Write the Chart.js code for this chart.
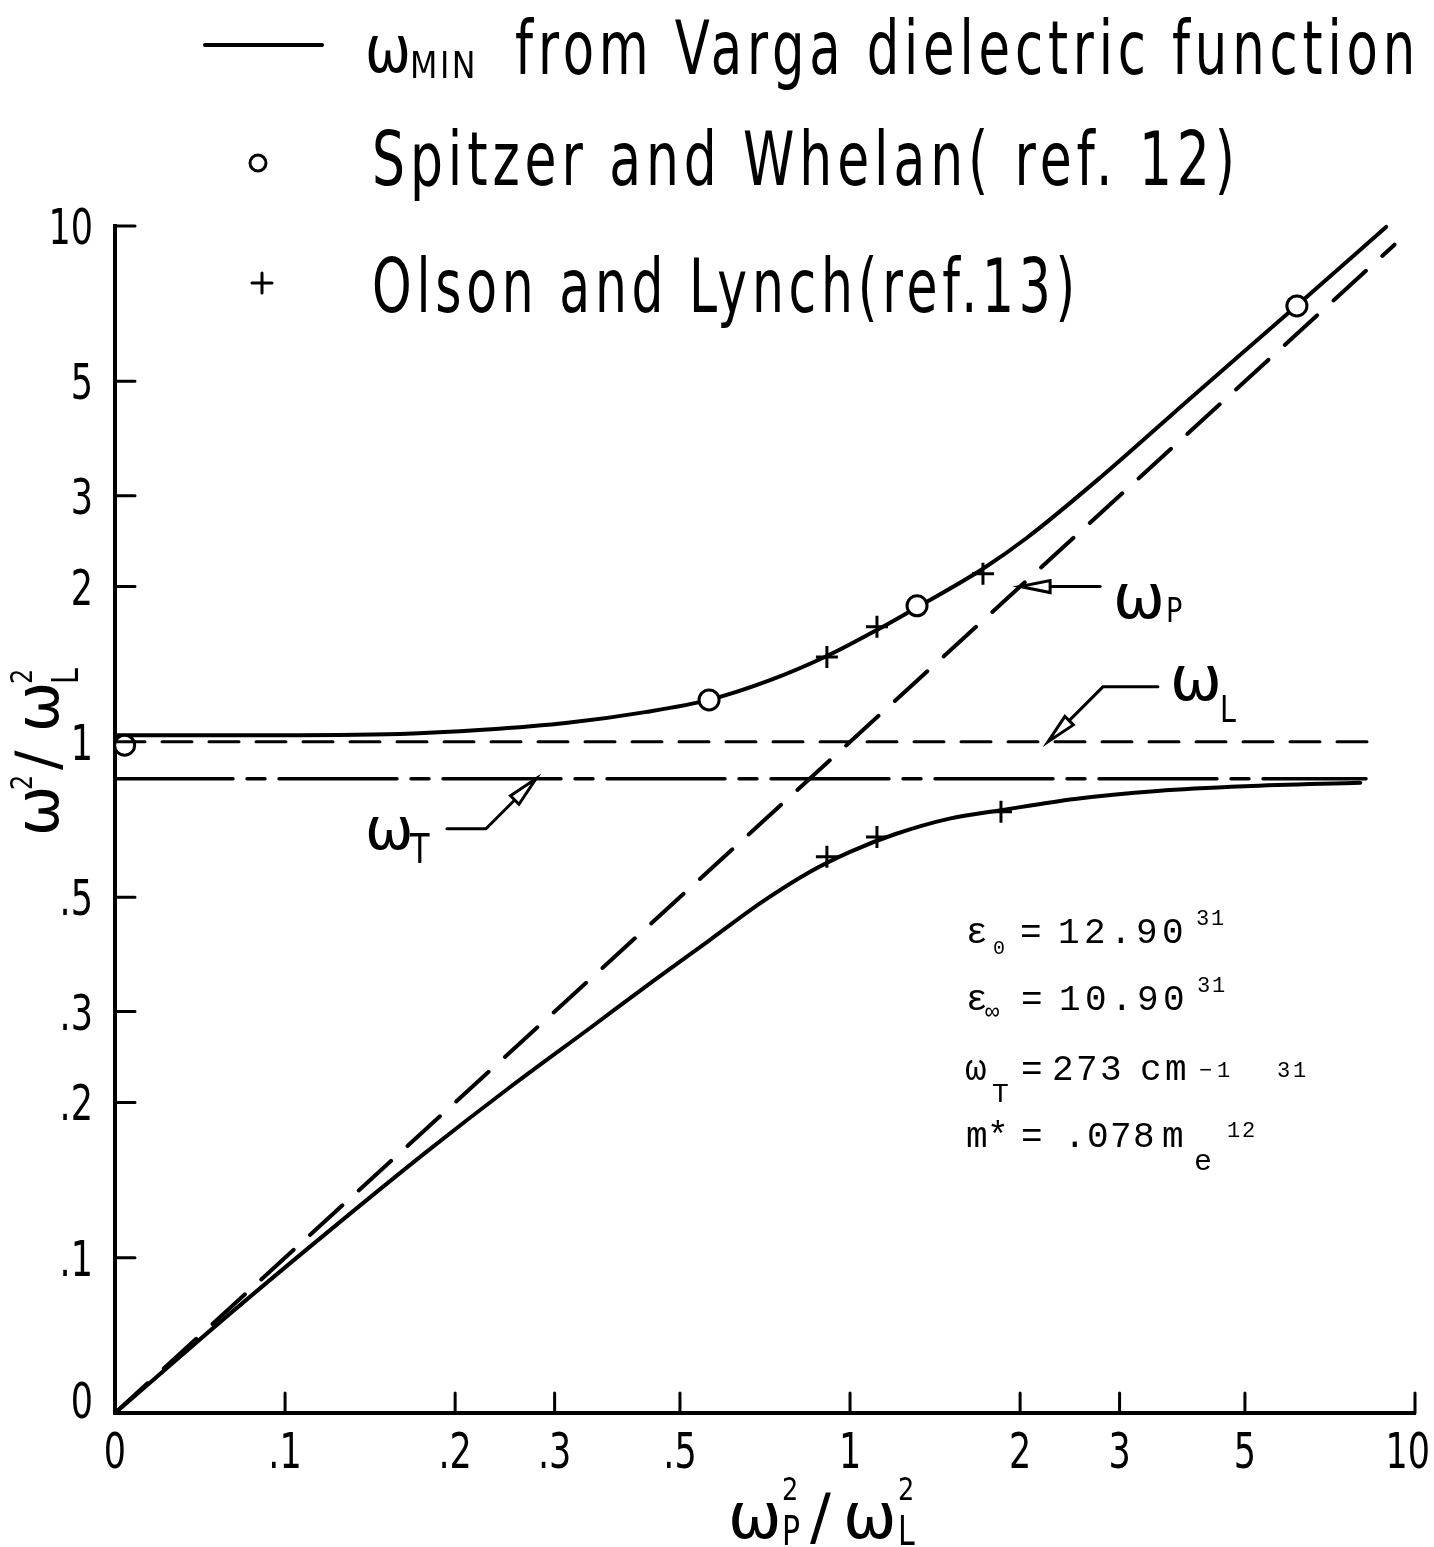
<!DOCTYPE html>
<html>
<head>
<meta charset="utf-8">
<title>omega min vs plasma frequency</title>
<script src="https://cdn.jsdelivr.net/npm/chart.js@4.4.0/dist/chart.umd.min.js"></script>
<style>
  html, body { margin: 0; padding: 0; background: #fff; }
  canvas { display: block; }
</style>
</head>
<body>
<canvas id="chart" width="1434" height="1547"></canvas>
<script>
// both axes are logarithmic, the "0" label sits at the lower end
const axisMin = 0.05;
const axisMax = 10;
const xTickValues = [0.05, 0.1, 0.2, 0.3, 0.5, 1, 2, 3, 5, 10];
const xTickLabels = ['0', '.1', '.2', '.3', '.5', '1', '2', '3', '5', '10'];
const yTickValues = [0.05, 0.1, 0.2, 0.3, 0.5, 1, 2, 3, 5, 10];
const yTickLabels = ['0', '.1', '.2', '.3', '.5', '1', '2', '3', '5', '10'];

// omega_MIN from Varga dielectric function, upper branch
const upperX = [0.05, 0.087, 0.16, 0.224, 0.319, 0.434, 0.563, 0.722, 0.91, 1.116, 1.314, 1.719, 2.057, 2.77, 4.08, 6.18, 8.89];
const upperY = [1.03, 1.03, 1.036, 1.055, 1.09, 1.142, 1.206, 1.317, 1.467, 1.648, 1.823, 2.166, 2.487, 3.25, 4.72, 7.01, 9.96];
// lower branch
const lowerX = [0.05, 0.08, 0.12, 0.18, 0.25, 0.35, 0.45, 0.563, 0.7, 0.85, 1.0, 1.2, 1.5, 1.85, 2.5, 3.5, 5.0, 8.0];
const lowerY = [0.05, 0.078, 0.113, 0.162, 0.214, 0.281, 0.345, 0.412, 0.49, 0.56, 0.612, 0.662, 0.71, 0.737, 0.775, 0.803, 0.82, 0.833];

// Spitzer and Whelan (ref. 12)
const spitzerX = [0.052, 0.563, 1.314, 6.18];
const spitzerY = [0.985, 1.206, 1.835, 7.0];
// Olson and Lynch (ref. 13)
const olsonX = [0.91, 1.116, 1.719, 0.91, 1.116, 1.85];
const olsonY = [1.461, 1.671, 2.117, 0.599, 0.654, 0.732];

// reference lines omega_L, omega_T, omega_P
const wLX = [0.05, 8.53];
const wLY = [1, 1];
const wTX = [0.05, 8.19];
const wTY = [0.848, 0.848];
const wPX = [0.05, 9.2];
const wPY = [0.05, 9.2];

const SANS = '"DejaVu Sans", "Liberation Sans", sans-serif';
const MONO = '"Liberation Mono", "DejaVu Sans Mono", monospace';

const pts = (xs, ys) => xs.map((x, i) => ({x: x, y: ys[i]}));

function curve(data, dash, width, smooth) {
    return {
        data: data,
        showLine: true,
        borderColor: '#000',
        borderWidth: width,
        borderDash: dash,
        borderCapStyle: 'round',
        pointRadius: 0,
        pointHoverRadius: 0,
        cubicInterpolationMode: smooth ? 'monotone' : 'default',
        fill: false,
        clip: false
    };
}

// text with optional horizontal squeeze to a target width
function txt(ctx, str, x, y, size, opt) {
    opt = opt || {};
    ctx.save();
    ctx.font = size + 'px ' + (opt.family || SANS);
    if (opt.spacing) ctx.letterSpacing = opt.spacing + 'px';
    const w = ctx.measureText(str).width;
    const sx = opt.width ? opt.width / w : (opt.sx || 1);
    ctx.translate(x, y);
    ctx.scale(sx, 1);
    ctx.fillStyle = '#000';
    ctx.textAlign = 'left';
    ctx.textBaseline = 'alphabetic';
    ctx.fillText(str, 0, 0);
    ctx.restore();
    return w * sx;
}

function textWidth(ctx, str, size, sx) {
    ctx.save();
    ctx.font = size + 'px ' + SANS;
    const w = ctx.measureText(str).width * sx;
    ctx.restore();
    return w;
}

// typewriter text, one char per fixed pitch
function typed(ctx, str, x, y, size, pitch) {
    ctx.save();
    ctx.font = size + 'px ' + MONO;
    ctx.fillStyle = '#000';
    ctx.textAlign = 'left';
    ctx.textBaseline = 'alphabetic';
    for (let i = 0; i < str.length; i++) {
        ctx.fillText(str[i], x + i * pitch, y);
    }
    ctx.restore();
}

function arrowHead(ctx, tx, ty, dx, dy) {
    const n = Math.hypot(dx, dy);
    dx /= n; dy /= n;
    const len = 30, half = 6;
    const bx = tx + dx * len, by = ty + dy * len;
    ctx.beginPath();
    ctx.moveTo(tx, ty);
    ctx.lineTo(bx - dy * half, by + dx * half);
    ctx.lineTo(bx + dy * half, by - dx * half);
    ctx.closePath();
    ctx.fillStyle = '#fff';
    ctx.fill();
    ctx.stroke();
}

const decorations = {
    id: 'decorations',
    afterDraw(chart) {
        const {ctx, chartArea: a, scales: {x, y}} = chart;
        ctx.save();
        ctx.strokeStyle = '#000';
        ctx.lineCap = 'round';

        // inward tick marks
        ctx.lineWidth = 3;
        ctx.beginPath();
        xTickValues.slice(1).forEach(v => {
            const px = x.getPixelForValue(v);
            ctx.moveTo(px, a.bottom);
            ctx.lineTo(px, a.bottom - 20);
        });
        yTickValues.slice(1).forEach(v => {
            const py = y.getPixelForValue(v);
            ctx.moveTo(a.left, py);
            ctx.lineTo(a.left + 20, py);
        });
        ctx.stroke();

        // tick labels in narrow lettering, placed from the scales' own ticks
        const lsize = 50, lsx = 0.7;
        x.ticks.forEach((t, i) => {
            const label = t.label || xTickLabels[i];
            const w = textWidth(ctx, label, lsize, lsx);
            const px = Math.min(x.getPixelForValue(t.value) - w / 2, chart.width - w - 4);
            txt(ctx, label, px, a.bottom + 55, lsize, {sx: lsx});
        });
        y.ticks.forEach((t, i) => {
            const label = t.label || yTickLabels[i];
            const w = textWidth(ctx, label, lsize, lsx);
            const py = Math.min(y.getPixelForValue(t.value) + 18, a.bottom + 5);
            txt(ctx, label, a.left - 22 - w, py, lsize, {sx: lsx});
        });

        // legend
        ctx.lineWidth = 4;
        ctx.beginPath();
        ctx.moveTo(205, 45);
        ctx.lineTo(322, 45);
        ctx.stroke();
        txt(ctx, 'ω', 365, 72, 66, {width: 46});
        txt(ctx, 'MIN', 410, 78, 38, {width: 68, spacing: 3});
        txt(ctx, 'from Varga dielectric function', 515, 74, 74, {width: 905, spacing: 7});

        ctx.lineWidth = 3;
        ctx.beginPath();
        ctx.arc(258, 163, 8, 0, Math.PI * 2);
        ctx.stroke();
        txt(ctx, 'Spitzer and Whelan( ref. 12)', 372, 185, 74, {width: 868, spacing: 7});

        ctx.beginPath();
        ctx.moveTo(252, 283);
        ctx.lineTo(272, 283);
        ctx.moveTo(262, 273);
        ctx.lineTo(262, 293);
        ctx.stroke();
        txt(ctx, 'Olson and Lynch(ref.13)', 372, 312, 74, {width: 708, spacing: 7});

        // x axis title
        txt(ctx, 'ω', 728, 1538, 64);
        txt(ctx, 'P', 782, 1545, 40, {sx: 0.75});
        txt(ctx, '2', 782, 1500, 32, {sx: 0.8});
        txt(ctx, '/', 810, 1538, 62);
        txt(ctx, 'ω', 843, 1538, 64);
        txt(ctx, 'L', 898, 1545, 40, {sx: 0.75});
        txt(ctx, '2', 898, 1500, 32, {sx: 0.8});

        // y axis title, rotated
        ctx.save();
        ctx.translate(58, 836);
        ctx.rotate(-Math.PI / 2);
        txt(ctx, 'ω', 0, 0, 60);
        txt(ctx, '2', 46, -26, 30, {sx: 0.8});
        txt(ctx, '/', 66, 0, 58);
        txt(ctx, 'ω', 104, 0, 60);
        txt(ctx, 'L', 152, 20, 38, {sx: 0.75});
        txt(ctx, '2', 152, -26, 30, {sx: 0.8});
        ctx.restore();

        // labels with arrows on the three reference lines
        ctx.lineWidth = 3;
        const pTip = {x: x.getPixelForValue(2.0), y: y.getPixelForValue(2.0)};
        ctx.beginPath();
        ctx.moveTo(pTip.x + 20, pTip.y);
        ctx.lineTo(pTip.x + 80, pTip.y);
        ctx.stroke();
        arrowHead(ctx, pTip.x, pTip.y, 1, 0);
        txt(ctx, 'ω', pTip.x + 93, pTip.y + 31, 62);
        txt(ctx, 'P', pTip.x + 146, pTip.y + 35, 34, {sx: 0.8});

        const lTip = {x: x.getPixelForValue(2.24), y: y.getPixelForValue(1)};
        ctx.beginPath();
        ctx.moveTo(lTip.x + 18, lTip.y - 18);
        ctx.lineTo(lTip.x + 55, lTip.y - 55);
        ctx.lineTo(lTip.x + 110, lTip.y - 55);
        ctx.stroke();
        arrowHead(ctx, lTip.x, lTip.y, 1, -1);
        txt(ctx, 'ω', lTip.x + 122, lTip.y - 42, 62);
        txt(ctx, 'L', lTip.x + 172, lTip.y - 20, 38, {sx: 0.75});

        const tTip = {x: x.getPixelForValue(0.278), y: y.getPixelForValue(0.848)};
        ctx.beginPath();
        ctx.moveTo(tTip.x - 18, tTip.y + 18);
        ctx.lineTo(tTip.x - 50, tTip.y + 50);
        ctx.lineTo(tTip.x - 89, tTip.y + 50);
        ctx.stroke();
        arrowHead(ctx, tTip.x, tTip.y, -1, 1);
        txt(ctx, 'ω', tTip.x - 171, tTip.y + 70, 58);
        txt(ctx, 'T', tTip.x - 126, tTip.y + 84, 40, {sx: 0.8});

        // material parameters, typewritten
        typed(ctx, 'ε', 966, 943, 36, 0);
        typed(ctx, '0', 993, 954, 20, 0);
        typed(ctx, '=', 1020, 943, 36, 0);
        typed(ctx, '12.90', 1058, 943, 36, 26);
        typed(ctx, '31', 1196, 925, 22, 15);

        typed(ctx, 'ε', 966, 1010, 36, 0);
        typed(ctx, '∞', 985, 1019, 24, 0);
        typed(ctx, '=', 1021, 1010, 36, 0);
        typed(ctx, '10.90', 1059, 1010, 36, 26);
        typed(ctx, '31', 1197, 992, 22, 15);

        typed(ctx, 'ω', 965, 1080, 36, 0);
        typed(ctx, 'T', 992, 1102, 28, 0);
        typed(ctx, '=', 1021, 1080, 36, 0);
        typed(ctx, '273', 1052, 1080, 36, 24);
        typed(ctx, 'cm', 1140, 1080, 36, 25);
        typed(ctx, '−1', 1199, 1077, 22, 18);
        typed(ctx, '31', 1277, 1077, 22, 16);

        typed(ctx, 'm*', 966, 1147, 36, 21);
        typed(ctx, '=', 1021, 1147, 36, 0);
        typed(ctx, '.078', 1064, 1147, 36, 23);
        typed(ctx, 'm', 1162, 1147, 36, 0);
        typed(ctx, 'e', 1194, 1170, 30, 0);
        typed(ctx, '12', 1227, 1137, 22, 15);

        ctx.restore();
    }
};

const config = {
    type: 'scatter',
    data: {
        datasets: [
            {
                label: 'Spitzer and Whelan (ref. 12)',
                data: pts(spitzerX, spitzerY),
                pointStyle: 'circle',
                pointRadius: 10,
                pointBorderWidth: 3,
                pointBackgroundColor: '#fff',
                pointBorderColor: '#000',
                clip: false
            },
            {
                label: 'Olson and Lynch (ref. 13)',
                data: pts(olsonX, olsonY),
                pointStyle: 'cross',
                pointRadius: 11,
                pointBorderWidth: 3,
                pointBorderColor: '#000',
                clip: false
            },
            Object.assign({label: 'omega MIN upper'}, curve(pts(upperX, upperY), [], 4, true)),
            Object.assign({label: 'omega MIN lower'}, curve(pts(lowerX, lowerY), [], 4, true)),
            Object.assign({label: 'omega L'}, curve(pts(wLX, wLY), [30, 17], 3, false)),
            Object.assign({label: 'omega T'}, curve(pts(wTX, wTY), [118, 14, 18, 14], 3.5, false)),
            Object.assign({label: 'omega P'}, curve(pts(wPX, wPY), [44, 22], 4, false))
        ]
    },
    options: {
        responsive: false,
        animation: false,
        devicePixelRatio: 1,
        layout: {padding: {top: 226, right: 19, left: 0, bottom: 0}},
        plugins: {legend: {display: false}, tooltip: {enabled: false}},
        scales: {
            x: {
                type: 'logarithmic',
                min: axisMin,
                max: axisMax,
                afterBuildTicks: s => { s.ticks = xTickValues.map(v => ({value: v})); },
                afterFit: s => { s.height = 134; s.paddingLeft = 0; s.paddingRight = 0; },
                grid: {display: false, drawTicks: false},
                border: {display: true, color: '#000', width: 4},
                ticks: {
                    display: false,
                    autoSkip: false,
                    maxRotation: 0,
                    callback: v => xTickLabels[xTickValues.indexOf(v)]
                }
            },
            y: {
                type: 'logarithmic',
                min: axisMin,
                max: axisMax,
                afterBuildTicks: s => { s.ticks = yTickValues.map(v => ({value: v})); },
                afterFit: s => { s.width = 115; s.paddingTop = 0; s.paddingBottom = 0; },
                grid: {display: false, drawTicks: false},
                border: {display: true, color: '#000', width: 4},
                ticks: {
                    display: false,
                    autoSkip: false,
                    callback: v => yTickLabels[yTickValues.indexOf(v)]
                }
            }
        }
    },
    plugins: [decorations]
};

new Chart(document.getElementById('chart'), config);
</script>
</body>
</html>
